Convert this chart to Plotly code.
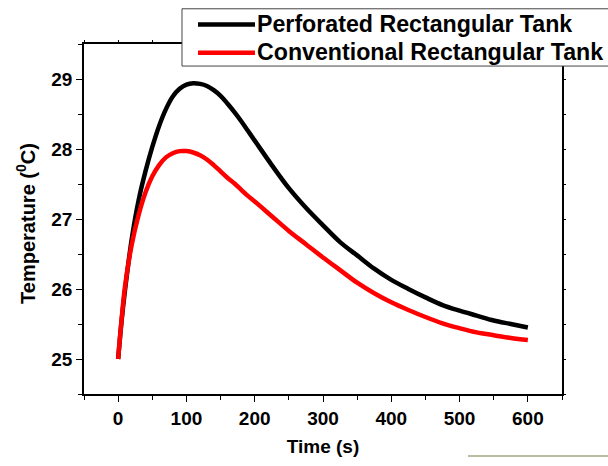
import plotly.graph_objects as go

time_s = [0, 5, 10, 20, 30, 40, 50, 60, 70, 80, 90, 100, 110, 120, 130, 140, 150, 160, 170,
          180, 190, 200, 225, 250, 275, 300, 325, 350, 375, 400, 425, 450, 475, 500, 525,
          550, 575, 600]
perforated = [25.00, 25.54, 25.98, 26.72, 27.27, 27.68, 28.03, 28.33, 28.57, 28.75, 28.86,
              28.92, 28.94, 28.93, 28.90, 28.84, 28.76, 28.65, 28.53, 28.40, 28.26, 28.12,
              27.77, 27.44, 27.16, 26.91, 26.67, 26.48, 26.29, 26.13, 26.00, 25.88, 25.77,
              25.69, 25.62, 25.55, 25.50, 25.45]
conventional = [25.00, 25.56, 26.03, 26.64, 27.06, 27.38, 27.61, 27.77, 27.88, 27.94, 27.97,
                27.97, 27.95, 27.91, 27.85, 27.77, 27.68, 27.59, 27.51, 27.42, 27.33, 27.25,
                27.04, 26.83, 26.64, 26.45, 26.27, 26.09, 25.94, 25.81, 25.70, 25.60, 25.51,
                25.44, 25.38, 25.34, 25.30, 25.27]
series_names = ["Perforated Rectangular Tank", "Conventional Rectangular Tank"]
series_colors = ["#000000", "#ff0000"]
x_ticks = [0, 100, 200, 300, 400, 500, 600]
y_ticks = [25, 26, 27, 28, 29]

FONT = "Liberation Sans, Arial, sans-serif"
X_RANGE = [-50, 650]
Y_RANGE = [24.5, 29.5]

fig = go.Figure()
for vals, name, col in zip([perforated, conventional], series_names, series_colors):
    fig.add_trace(go.Scatter(x=time_s, y=vals, mode="lines", name=name,
                             line=dict(color=col, width=4.5, shape="spline", smoothing=1.0),
                             showlegend=False))
# invisible trace so the top/right frame axes (with their tiny ticks) are drawn
fig.add_trace(go.Scatter(x=time_s, y=perforated, xaxis="x2", yaxis="y2", mode="lines",
                         line=dict(width=0), opacity=0, hoverinfo="skip", showlegend=False))

axis_common = dict(showline=True, linecolor="black", linewidth=1.5,
                   ticks="outside", ticklen=6, tickwidth=1.2, tickcolor="black",
                   showgrid=False, zeroline=False,
                   tickfont=dict(family=FONT, size=19, color="black", weight="bold"))

fig.update_layout(
    xaxis=dict(range=X_RANGE, tickvals=x_ticks, ticktext=[str(v) for v in x_ticks],
               minor=dict(ticks="outside", ticklen=4, tickcolor="black", dtick=50, tick0=0),
               title=dict(text="<b>Time (s)</b>", font=dict(family=FONT, size=19, color="black"),
                          standoff=12),
               **axis_common),
    yaxis=dict(range=Y_RANGE, tickvals=y_ticks, ticktext=[str(v) for v in y_ticks],
               minor=dict(ticks="outside", ticklen=4, tickcolor="black", dtick=0.5, tick0=25),
               **axis_common),
    xaxis2=dict(range=X_RANGE, overlaying="x", side="top", anchor="y", showline=True,
                linecolor="black", linewidth=1.5, ticks="outside", ticklen=2, tickcolor="black",
                tickvals=x_ticks, showticklabels=False, showgrid=False, zeroline=False,
                minor=dict(ticks="outside", ticklen=2, tickcolor="black", dtick=50, tick0=0)),
    yaxis2=dict(range=Y_RANGE, overlaying="y", side="right", anchor="x", showline=True,
                linecolor="black", linewidth=1.5, ticks="outside", ticklen=2, tickcolor="black",
                tickvals=y_ticks, showticklabels=False, showgrid=False, zeroline=False,
                minor=dict(ticks="outside", ticklen=2, tickcolor="black", dtick=0.5, tick0=25)),
)

annotations = [dict(xref="paper", yref="paper", x=(26 - 84) / 478, y=(402 - 228) / 358,
                    text="<b>Temperature (<sup>0</sup>C)</b>", textangle=-90, showarrow=False,
                    xanchor="center", yanchor="middle",
                    font=dict(family=FONT, size=20, color="black"))]

# Manual legend box (extends beyond the right edge, as in the reference)
shapes = [dict(type="rect", xref="paper", yref="paper", x0=0.205, x1=1.12, y0=0.937, y1=1.1006,
               line=dict(color="#444444", width=1), fillcolor="white", layer="above")]
legend_y = [1.0559, 0.975]
for name, col, yy in zip(series_names, series_colors, legend_y):
    shapes.append(dict(type="line", xref="paper", yref="paper", x0=0.2385, x1=0.3577,
                       y0=yy, y1=yy, line=dict(color=col, width=4.5), layer="above"))
    annotations.append(dict(xref="paper", yref="paper", x=0.358, y=yy + 0.002, text="<b>%s</b>" % name,
                            showarrow=False, xanchor="left", yanchor="middle",
                            font=dict(family=FONT, size=23.2, color="black")))
# faint line at the bottom right of the reference image
shapes.append(dict(type="line", xref="paper", yref="paper", x0=(468 - 84) / 478, x1=1.2,
                   y0=-(465.5 - 402) / 358, y1=-(465.5 - 402) / 358,
                   line=dict(color="#a3a883", width=1.5)))

fig.update_layout(width=608, height=466, margin=dict(l=84, r=46, t=44, b=64),
                  paper_bgcolor="white", plot_bgcolor="white",
                  shapes=shapes, annotations=annotations,
                  font=dict(family=FONT, color="black"))

# remove the default 8px page margin so the figure fills the window exactly
fig.write_html("out.html", config={"displayModeBar": False},
               post_script="document.body.style.margin='0';"
                           "document.documentElement.style.overflow='hidden';")
